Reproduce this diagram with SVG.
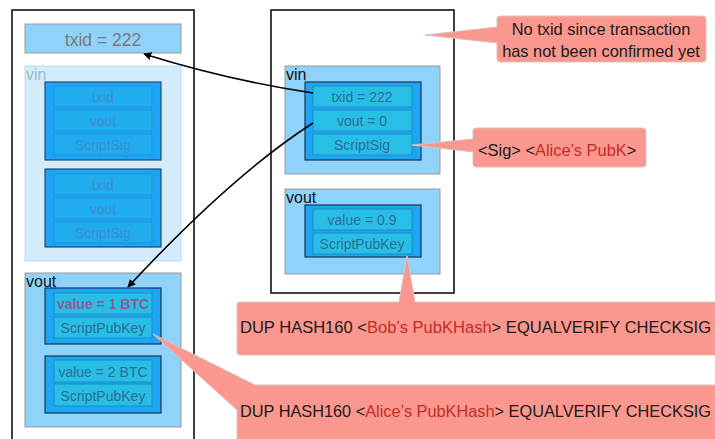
<svg xmlns="http://www.w3.org/2000/svg" width="715" height="439" viewBox="0 0 715 439">
<defs>
<marker id="arr" viewBox="0 0 10 10" refX="9" refY="5" markerWidth="8" markerHeight="8" markerUnits="userSpaceOnUse" orient="auto">
<path d="M0,0 L10,5 L0,10 z" fill="#000"/>
</marker>
</defs>
<style>
text{font-family:"Liberation Sans",Arial,sans-serif}
.panel{fill:#fff;stroke:#111;stroke-width:1.6}
.area{fill:#8fd3fb;stroke:#9a9a9a;stroke-width:1}
.areaf{fill:#d3ecfb;stroke:#c2d9e6;stroke-width:1}
.box{fill:#1ea6f4;stroke:#1b3550;stroke-width:1.2}
.boxf{fill:#1ea4f6;stroke:#1f4a70;stroke-width:1.2}
.row{fill:#28bfe6;stroke:#1a8cc4;stroke-width:1}
.rowf{fill:#20adf0;stroke:#1c94d6;stroke-width:1}
.rt{font-size:14px;fill:#2d6c94;text-anchor:middle}
.rtf{font-size:14px;fill:#3d8ccc;text-anchor:middle}
.lbl{font-size:16px;fill:#111}
.call{fill:#fa978e;stroke:#d9c3c0;stroke-width:1}
.ct{font-size:16.4px;fill:#1a1a1a}
.red{fill:#c32d29}
.conn{fill:none;stroke:#000;stroke-width:1.6}
</style>

<g id="tx-left">
<rect class="panel" x="12" y="10" width="182" height="440"/>
<rect x="25" y="24" width="156" height="29" fill="#8fd3fb" stroke="#9a9a9a"/>
<text x="103" y="46" font-size="17.5" fill="#7a7a7a" text-anchor="middle">txid = 222</text>
</g>

<g id="vin-left">
<rect class="areaf" x="25" y="66" width="156" height="195"/>
<text x="26" y="80" font-size="16" fill="#9fb8c8">vin</text>
<rect class="boxf" x="45" y="82" width="116" height="78"/>
<rect class="rowf" x="54" y="86" width="98" height="21"/>
<rect class="rowf" x="54" y="110" width="98" height="21"/>
<rect class="rowf" x="54" y="134" width="98" height="21"/>
<text class="rtf" x="103" y="102">txid</text>
<text class="rtf" x="103" y="126">vout</text>
<text class="rtf" x="103" y="150">ScriptSig</text>
<rect class="boxf" x="45" y="169" width="116" height="78"/>
<rect class="rowf" x="54" y="174" width="98" height="21"/>
<rect class="rowf" x="54" y="198" width="98" height="21"/>
<rect class="rowf" x="54" y="222" width="98" height="21"/>
<text class="rtf" x="103" y="190">txid</text>
<text class="rtf" x="103" y="214">vout</text>
<text class="rtf" x="103" y="238">ScriptSig</text>
</g>

<g id="vout-left">
<rect class="area" x="25" y="273" width="156" height="154"/>
<text class="lbl" x="26" y="287">vout</text>
<rect class="box" x="45" y="288" width="116" height="56"/>
<rect class="row" x="54" y="293" width="98" height="21"/>
<rect class="row" x="54" y="317" width="98" height="21"/>
<text x="103" y="309" font-size="14" font-weight="bold" fill="#8a5c98" text-anchor="middle">value = 1 BTC</text>
<text class="rt" x="103" y="333">ScriptPubKey</text>
<rect class="box" x="45" y="356" width="116" height="57"/>
<rect class="row" x="54" y="360" width="98" height="22"/>
<rect class="row" x="54" y="384" width="98" height="22"/>
<text class="rt" x="103" y="377">value = 2 BTC</text>
<text class="rt" x="103" y="401">ScriptPubKey</text>
</g>

<g id="tx-right">
<rect class="panel" x="271" y="10" width="183" height="283"/>
</g>

<g id="vin-right">
<rect class="area" x="285" y="66" width="155" height="108"/>
<text class="lbl" x="286" y="80">vin</text>
<rect class="box" x="305" y="82" width="116" height="78"/>
<rect class="row" x="313" y="86" width="99" height="21"/>
<rect class="row" x="313" y="110" width="99" height="21"/>
<rect class="row" x="313" y="134" width="99" height="21"/>
<text class="rt" x="362" y="102">txid = 222</text>
<text class="rt" x="362" y="126">vout = 0</text>
<text class="rt" x="362" y="150">ScriptSig</text>
</g>

<g id="vout-right">
<rect class="area" x="285" y="189" width="155" height="85"/>
<text class="lbl" x="286" y="203">vout</text>
<rect class="box" x="305" y="205" width="116" height="52"/>
<rect class="row" x="313" y="209" width="99" height="21"/>
<rect class="row" x="313" y="233" width="99" height="21"/>
<text class="rt" x="362" y="225">value = 0.9</text>
<text class="rt" x="362" y="249">ScriptPubKey</text>
</g>

<g id="connectors">
<path class="conn" d="M313,93 Q227,80 144,54" marker-end="url(#arr)"/>
<path class="conn" d="M313,123 Q232,175 128,287" marker-end="url(#arr)"/>
</g>

<g id="callout-txid">
<path class="call" d="M500,16 H703 Q706,16 706,19 V59 Q706,62 703,62 H500 Q497,62 497,59 V43 L425,35 L497,27 V19 Q497,16 500,16 Z"/>
<text class="ct" x="601" y="35" text-anchor="middle">No txid since transaction</text>
<text class="ct" x="601" y="57" text-anchor="middle">has not been confirmed yet</text>
</g>

<g id="callout-sig">
<path class="call" d="M476,128 H643 Q646,128 646,131 V164 Q646,167 643,167 H476 Q473,167 473,164 V152 L412,145 L473,139 V131 Q473,128 476,128 Z"/>
<text class="ct" x="478" y="156">&lt;Sig&gt; &lt;<tspan class="red">Alice’s PubK</tspan>&gt;</text>
</g>

<g id="callout-bob">
<path class="call" d="M240,302 H399 L407,256 L415,302 H720 V355 H240 Q237,355 237,352 V305 Q237,302 240,302 Z"/>
<text class="ct" x="240" y="333" textLength="471" lengthAdjust="spacingAndGlyphs">DUP HASH160 &lt;<tspan class="red">Bob’s PubKHash</tspan>&gt; EQUALVERIFY CHECKSIG</text>
</g>

<g id="callout-alice">
<path class="call" d="M255,385 H720 V445 H237 V410 L153,334 Z"/>
<text class="ct" x="240" y="417" textLength="471" lengthAdjust="spacingAndGlyphs">DUP HASH160 &lt;<tspan class="red">Alice’s PubKHash</tspan>&gt; EQUALVERIFY CHECKSIG</text>
</g>
</svg>
